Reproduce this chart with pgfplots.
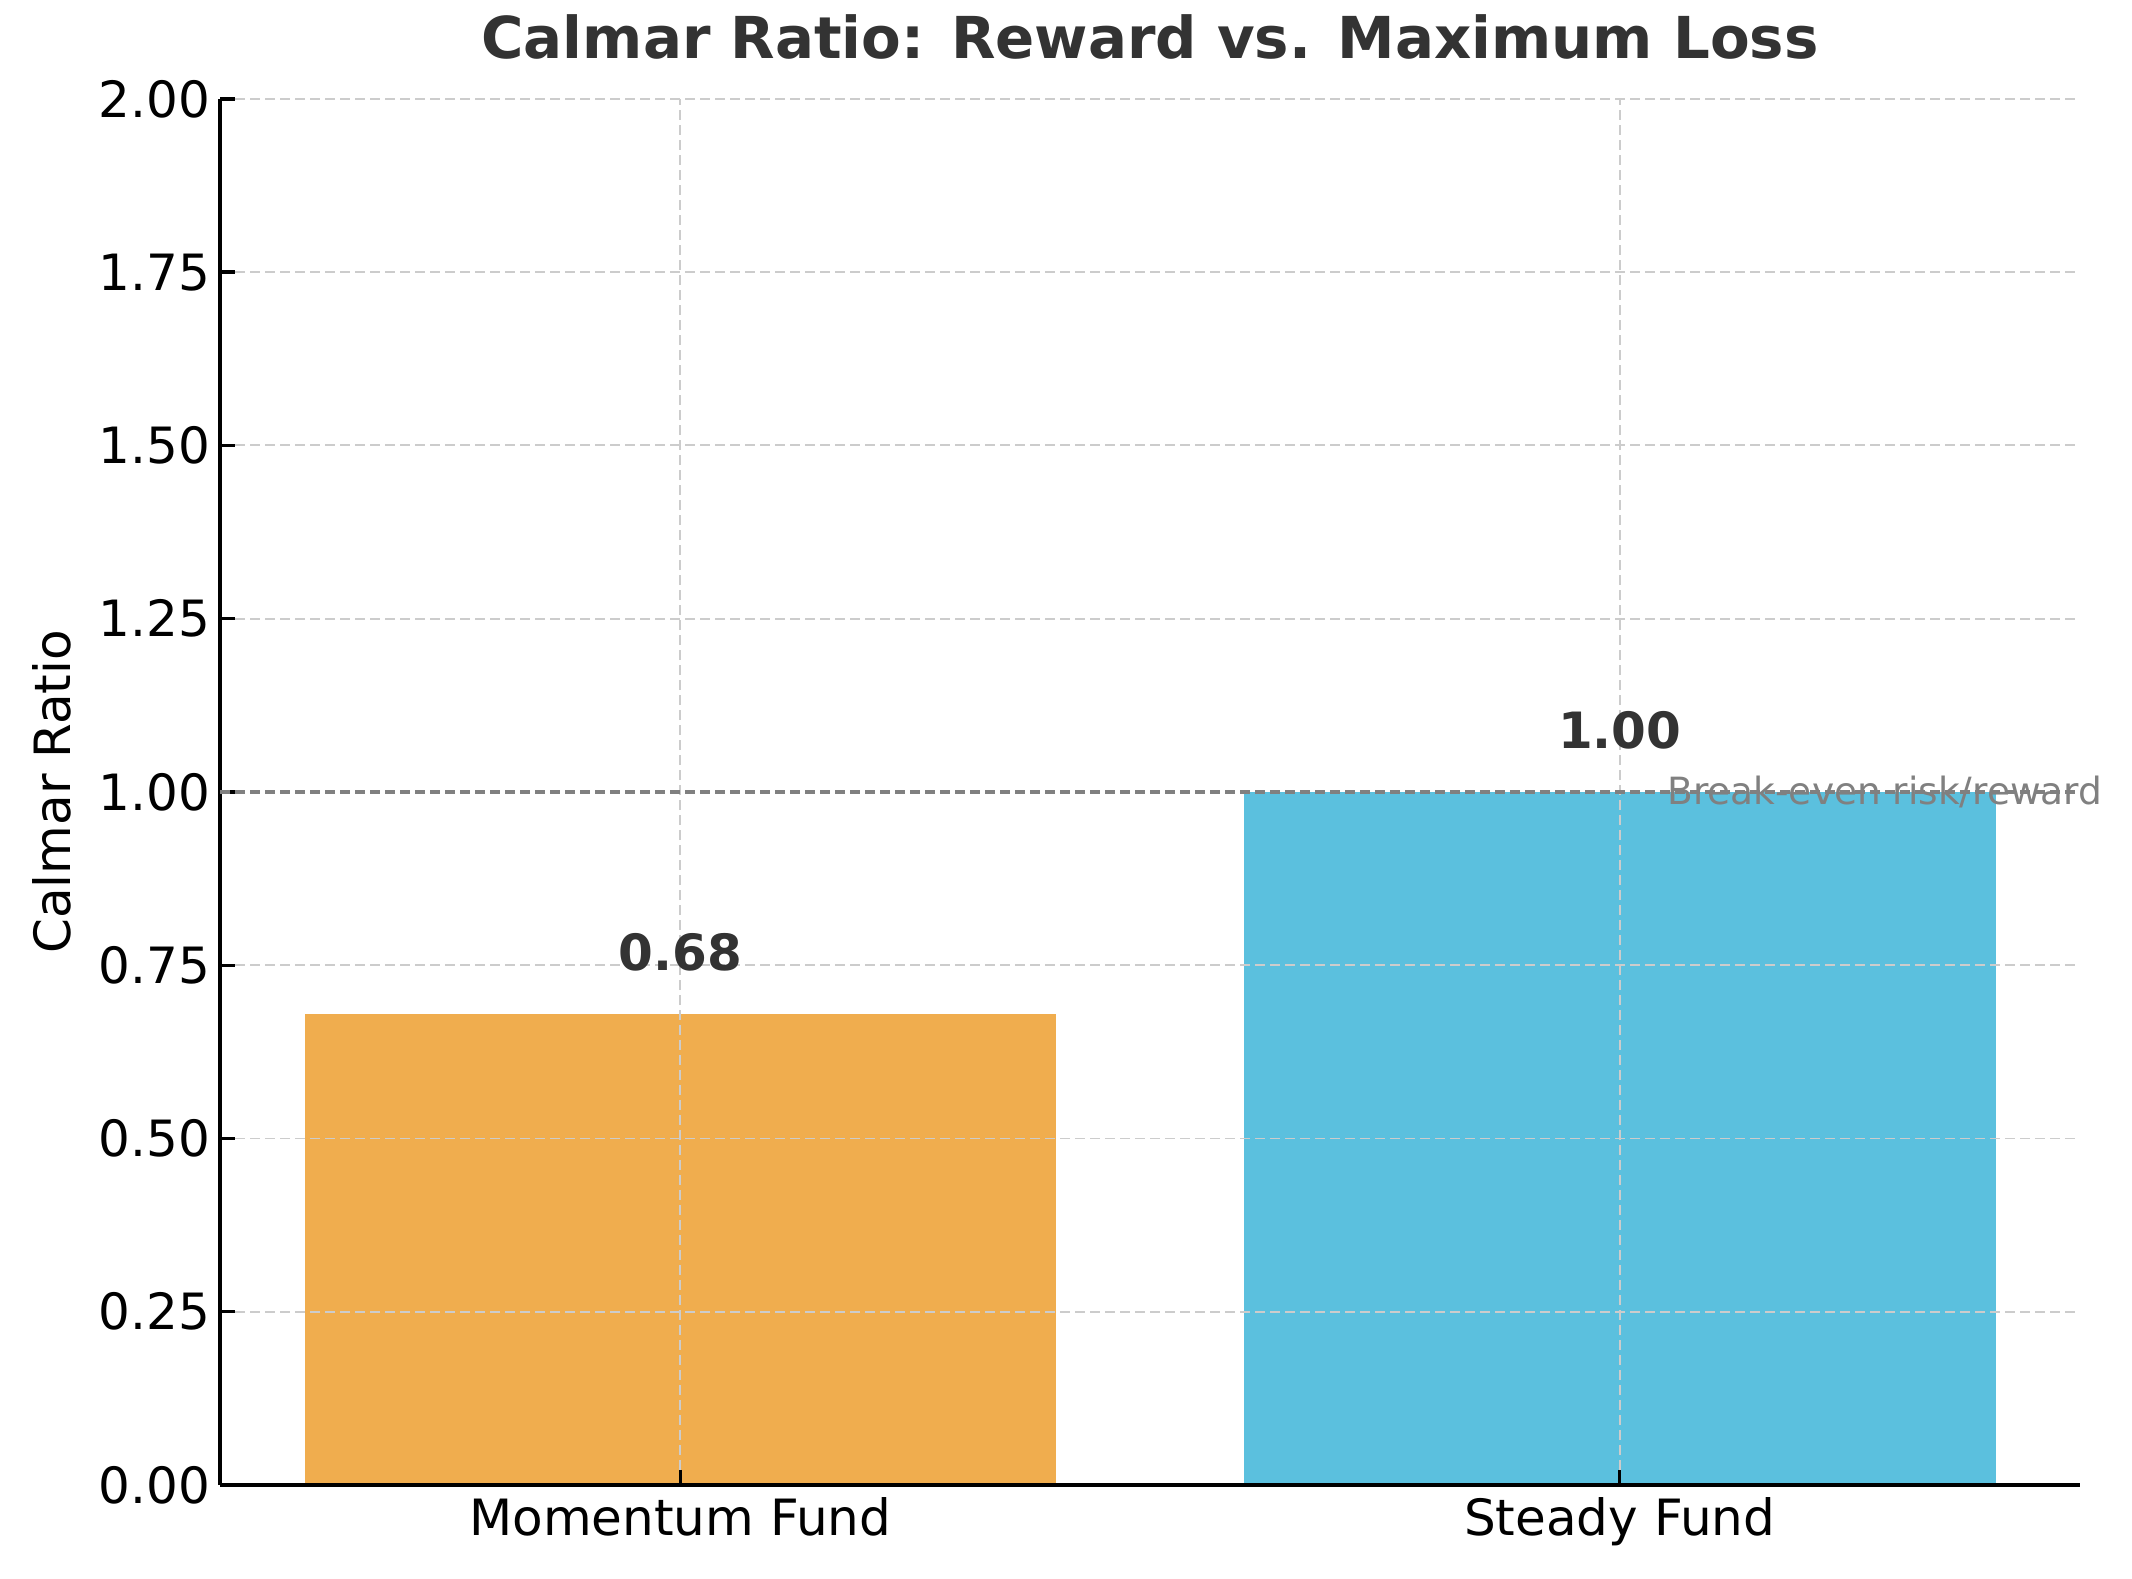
\documentclass[border=0pt]{standalone}
\usepackage{pgfplots}
\pgfplotsset{compat=1.18}
\usepackage{fontspec}
\setmainfont{DejaVu Sans}
\definecolor{orangebar}{HTML}{F0AD4E}
\definecolor{bluebar}{HTML}{5BC0DE}
\definecolor{gridc}{HTML}{CCCCCC}
\definecolor{titlec}{HTML}{333333}
\definecolor{linec}{HTML}{808080}
\begin{document}
\begin{tikzpicture}
\begin{axis}[
  name=a,
  set layers=standard,
  scale only axis,
  width=669.6pt, height=499pt,
  xmin=-0.49, xmax=1.49,
  ymin=0, ymax=2,
  xtick={0,1},
  xticklabels={Momentum Fund, Steady Fund},
  ytick={0,0.25,0.5,0.75,1,1.25,1.5,1.75,2},
  yticklabel style={/pgf/number format/fixed, /pgf/number format/precision=2, /pgf/number format/fixed zerofill},
  /pgf/number format/assume math mode=true,
  ticklabel style={font=\fontsize{18}{22}\selectfont, text=black},
  xticklabel style={yshift=-0.8pt},
  axis lines=left,
  axis line style={-, line width=1.2pt, black},
  tick align=inside,
  major tick length=5.4pt,
  tick style={line width=1.2pt, black},
  grid=major,
  major grid style={gridc, line width=0.7pt, dash pattern=on 3.6pt off 1.8pt},
  clip=false,
  title={Calmar Ratio: Reward vs. Maximum Loss},
  title style={at={(axis description cs:0.5,1)}, anchor=base, yshift=8.6pt, font=\fontsize{20.8}{25}\selectfont\bfseries, text=titlec},
  ylabel={Calmar Ratio},
  every axis y label/.style={at={(axis description cs:0,0.5)}, xshift=-60.5pt, anchor=center, rotate=90, font=\fontsize{18}{22}\selectfont, text=black},
]
\addplot[on layer=axis background, ybar, bar width=0.8, bar shift=0pt, fill=orangebar, draw=none] coordinates {(0,0.68)};
\addplot[on layer=axis background, ybar, bar width=0.8, bar shift=0pt, fill=bluebar, draw=none] coordinates {(1,1.00)};
\addplot[linec, line width=1.7pt, dash pattern=on 3.6pt off 1.8pt] coordinates {(-0.49,1) (1.49,1)};
\addplot[draw=none, mark=none,
  nodes near coords,
  nodes near coords style={anchor=base, yshift=15.5pt, font=\fontsize{18}{22}\selectfont\bfseries, text=titlec, /pgf/number format/fixed, /pgf/number format/precision=2, /pgf/number format/fixed zerofill, /pgf/number format/assume math mode=true}]
  coordinates {(0,0.68) (1,1.00)};
\node[anchor=west, inner sep=0pt, text=linec, font=\fontsize{13.5}{16}\selectfont] at (axis cs:1.05,1) {Break-even risk/reward};
\end{axis}
\pgfresetboundingbox
\path[use as bounding box] ([xshift=-79.2pt,yshift=-33.5pt]a.south west) rectangle ([xshift=688.3pt,yshift=534.6pt]a.south west);
\end{tikzpicture}
\end{document}
